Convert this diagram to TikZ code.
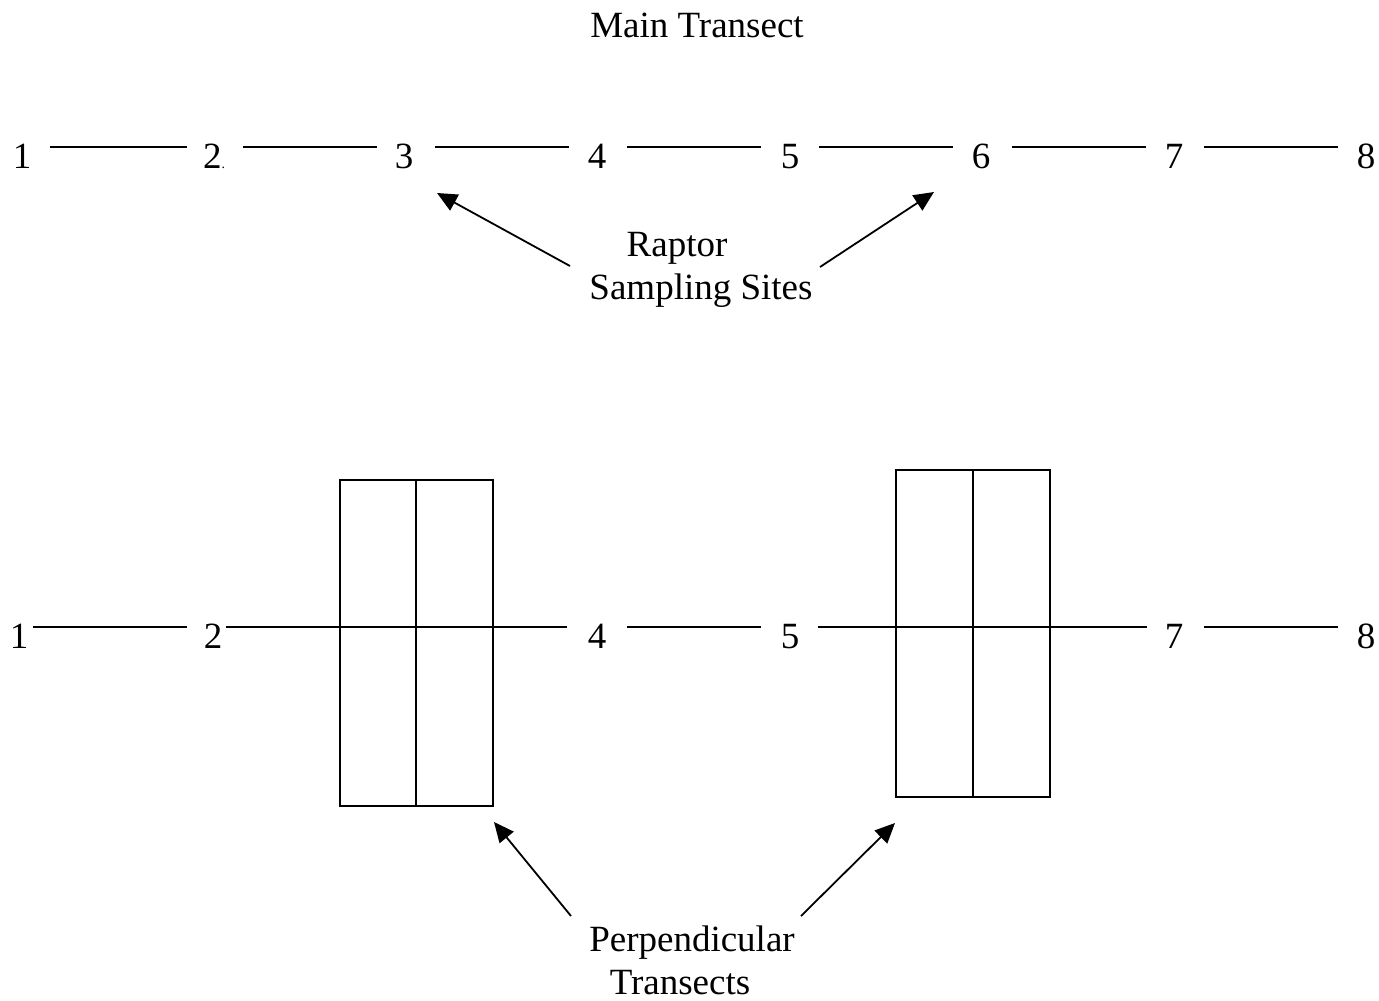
\documentclass[tikz,border=0pt]{standalone}
\usepackage{fontspec}
\setmainfont{Liberation Serif}
\usetikzlibrary{arrows.meta}
\begin{document}
\begin{tikzpicture}[x=1pt,y=-1pt,
  lbl/.style={anchor=base,inner sep=0pt,font=\fontsize{37}{42.5}\selectfont},
  seg/.style={line width=1.6pt},
  box/.style={line width=1.8pt},
  pointer/.style={line width=1.8pt,-{Triangle[length=20pt,width=18pt]}}]
\useasboundingbox (0,0) rectangle (1379,1001);
% title
\node[lbl] (title) at (697,37) {Main Transect};
% top row numbers
\node[lbl] (a1) at (22,168) {1};
\node[lbl,anchor=base west] (a2) at (203,168) {2{\fontsize{14}{14}\selectfont.}};
\node[lbl] (a3) at (404,168) {3};
\node[lbl] (a4) at (597,168) {4};
\node[lbl] (a5) at (790,168) {5};
\node[lbl] (a6) at (981,168) {6};
\node[lbl] (a7) at (1174,168) {7};
\node[lbl] (a8) at (1366,168) {8};
% top segments
\draw[seg] (50,147) -- (187,147);
\draw[seg] (243,147) -- (377,147);
\draw[seg] (435,147) -- (569,147);
\draw[seg] (627,147) -- (761,147);
\draw[seg] (819,147) -- (953,147);
\draw[seg] (1012,147) -- (1146,147);
\draw[seg] (1204,147) -- (1338,147);
% raptor label
\node[lbl] (r1) at (677,256) {Raptor};
\node[lbl] (r2) at (701,299) {Sampling Sites};
\coordinate (rl) at (570,266);
\coordinate (rr) at (820,267);
\coordinate (t3) at (437,193);
\coordinate (t6) at (934,192);
\draw[pointer] (rl) -- (t3);
\draw[pointer] (rr) -- (t6);
% bottom row numbers
\node[lbl] (b1) at (19,648) {1};
\node[lbl] (b2) at (213,648) {2};
\node[lbl] (b4) at (597,648) {4};
\node[lbl] (b5) at (790,648) {5};
\node[lbl] (b7) at (1174,648) {7};
\node[lbl] (b8) at (1366,648) {8};
% bottom segments
\draw[seg] (33,627) -- (187,627);
\draw[seg] (226,627) -- (567,627);
\draw[seg] (627,627) -- (761,627);
\draw[seg] (818,627) -- (1147,627);
\draw[seg] (1204,627) -- (1338,627);
% perpendicular transect boxes
\draw[box] (340,480) rectangle (493,806);
\draw[box] (416,480) -- (416,806);
\draw[box] (896,470) rectangle (1050,797);
\draw[box] (973,470) -- (973,797);
% perpendicular label
\node[lbl] (p1) at (692,951) {Perpendicular};
\node[lbl] (p2) at (680,994) {Transects};
\coordinate (pl) at (571,916);
\coordinate (pr) at (801,916);
\coordinate (bl) at (494,822);
\coordinate (br) at (895,823);
\draw[pointer] (pl) -- (bl);
\draw[pointer] (pr) -- (br);
\end{tikzpicture}
\end{document}
